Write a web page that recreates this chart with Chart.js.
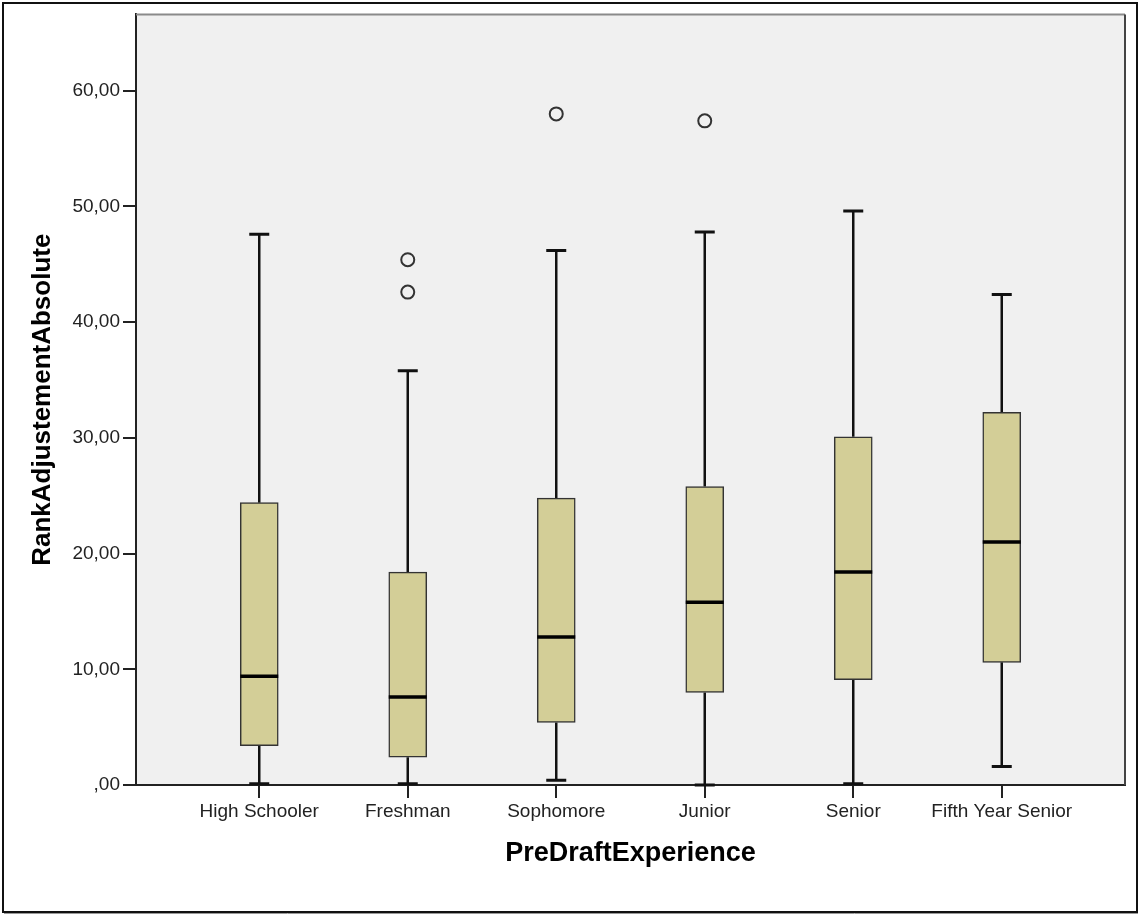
<!DOCTYPE html>
<html><head><meta charset="utf-8">
<script src="https://cdn.jsdelivr.net/npm/chart.js@4/dist/chart.umd.min.js"></script>
<style>html,body{margin:0;padding:0;background:#fff;} #wrap{width:1139px;height:915px;}</style>
</head><body><div id="wrap"><canvas id="c" width="1139" height="915"></canvas></div>
<script>
const categories = ["High Schooler","Freshman","Sophomore","Junior","Senior","Fifth Year Senior"];
const whiskerLow  = [0.1, 0.1, 0.4, 0.0, 0.1, 1.6];
const q1          = [3.4, 2.4, 5.4, 8.0, 9.1, 10.6];
const median      = [9.4, 7.6, 12.8, 15.8, 18.4, 21.0];
const q3          = [24.4, 18.4, 24.8, 25.8, 30.1, 32.2];
const whiskerHigh = [47.6, 35.8, 46.2, 47.8, 49.6, 42.4];
const outliers    = [[], [45.4, 42.6], [58.0], [57.4], [], []];
const yTicks      = [0, 10, 20, 30, 40, 50, 60];
const yTickLabels = [",00", "10,00", "20,00", "30,00", "40,00", "50,00", "60,00"];

const FONT = '"Liberation Sans", Arial, sans-serif';

const boxData = categories.map((c, i) => ({x: i, y: [q1[i], q3[i]]}));
const outlierData = [];
outliers.forEach((arr, i) => arr.forEach(v => outlierData.push({x: i, y: v})));

const boxPlugin = {
  id: 'boxplot',
  beforeDraw(chart) {
    const {ctx, chartArea: a} = chart;
    ctx.save();
    ctx.fillStyle = '#ffffff';
    ctx.fillRect(0, 0, chart.width, chart.height);
    ctx.fillStyle = '#f0f0f0';
    ctx.fillRect(a.left, a.top, a.right - a.left, a.bottom - a.top);
    ctx.strokeStyle = '#111';
    ctx.lineWidth = 2;
    ctx.strokeRect(3, 3, chart.width - 5, chart.height - 6);
    ctx.strokeStyle = '#999';
    ctx.lineWidth = 1;
    ctx.beginPath();
    ctx.moveTo(4, chart.height - 1.5); ctx.lineTo(chart.width - 1, chart.height - 1.5);
    ctx.stroke();
    ctx.restore();
  },
  beforeDatasetsDraw(chart) {
    const {ctx} = chart;
    const xs = chart.scales.x, ys = chart.scales.y;
    ctx.save();
    ctx.strokeStyle = '#111';
    categories.forEach((c, i) => {
      const x = xs.getPixelForValue(i);
      const yHi = ys.getPixelForValue(whiskerHigh[i]);
      const yLo = ys.getPixelForValue(whiskerLow[i]);
      ctx.lineWidth = 2.5;
      ctx.beginPath();
      ctx.moveTo(x, ys.getPixelForValue(q3[i])); ctx.lineTo(x, yHi);
      ctx.moveTo(x, ys.getPixelForValue(q1[i])); ctx.lineTo(x, yLo);
      ctx.stroke();
      ctx.lineWidth = 3;
      ctx.beginPath();
      ctx.moveTo(x - 10, yHi); ctx.lineTo(x + 10, yHi);
      ctx.moveTo(x - 10, yLo); ctx.lineTo(x + 10, yLo);
      ctx.stroke();
    });
    ctx.restore();
  },
  afterDatasetsDraw(chart) {
    const {ctx} = chart;
    const ys = chart.scales.y;
    const meta = chart.getDatasetMeta(0);
    ctx.save();
    ctx.strokeStyle = '#000';
    ctx.lineWidth = 3.5;
    meta.data.forEach((el, i) => {
      const y = ys.getPixelForValue(median[i]);
      const half = el.width / 2;
      ctx.beginPath();
      ctx.moveTo(el.x - half, y); ctx.lineTo(el.x + half, y);
      ctx.stroke();
    });
    ctx.restore();
  },
  afterDraw(chart) {
    const {ctx, chartArea: a} = chart;
    ctx.save();
    ctx.lineWidth = 2;
    ctx.strokeStyle = '#8a8a8a';
    ctx.beginPath(); ctx.moveTo(a.left, a.top); ctx.lineTo(a.right, a.top); ctx.stroke();
    ctx.strokeStyle = '#444';
    ctx.beginPath(); ctx.moveTo(a.right, a.top); ctx.lineTo(a.right, a.bottom); ctx.stroke();
    ctx.restore();
  }
};

new Chart(document.getElementById('c'), {
  type: 'bar',
  data: {
    datasets: [
      {
        type: 'bar',
        data: boxData,
        backgroundColor: '#d3ce97',
        borderColor: '#333',
        borderWidth: 1.5,
        borderSkipped: false,
        barThickness: 38
      },
      {
        type: 'scatter',
        data: outlierData,
        pointStyle: 'circle',
        pointRadius: 6.5,
        pointBorderWidth: 2,
        pointBorderColor: '#333',
        pointBackgroundColor: 'rgba(0,0,0,0)',
        showLine: false
      }
    ]
  },
  options: {
    responsive: false,
    animation: false,
    devicePixelRatio: 1,
    layout: {padding: {left: 0, top: 12, right: 14, bottom: 0}},
    plugins: {legend: {display: false}, tooltip: {enabled: false}},
    scales: {
      x: {
        type: 'linear',
        min: -0.83, max: 5.83,
        offset: false,
        afterBuildTicks: s => { s.ticks = categories.map((c, i) => ({value: i})); },
        afterFit: s => { s.height = 130; },
        ticks: {
          callback: v => categories[v],
          autoSkip: false, maxRotation: 0, minRotation: 0,
          font: {family: FONT, size: 19}, color: '#222', padding: 2
        },
        grid: {drawOnChartArea: false, drawTicks: true, tickLength: 13, color: '#222', lineWidth: 2, offset: false},
        border: {display: true, color: '#222', width: 2},
        title: {display: true, text: 'PreDraftExperience', font: {family: FONT, size: 27, weight: 'bold'}, color: '#000', padding: {top: 0, bottom: 45}}
      },
      y: {
        type: 'linear',
        min: 0, max: 66.6,
        afterBuildTicks: s => { s.ticks = yTicks.map(v => ({value: v})); },
        afterFit: s => { s.width = 136; },
        ticks: {
          callback: v => yTickLabels[yTicks.indexOf(v)],
          font: {family: FONT, size: 19}, color: '#222', padding: 3
        },
        grid: {drawOnChartArea: false, drawTicks: true, tickLength: 13, color: '#222', lineWidth: 2},
        border: {display: true, color: '#222', width: 2},
        title: {display: true, text: 'RankAdjustementAbsolute', font: {family: FONT, size: 26, weight: 'bold'}, color: '#000', padding: {top: 27, bottom: 0}}
      }
    }
  },
  plugins: [boxPlugin]
});
</script>
</body></html>
